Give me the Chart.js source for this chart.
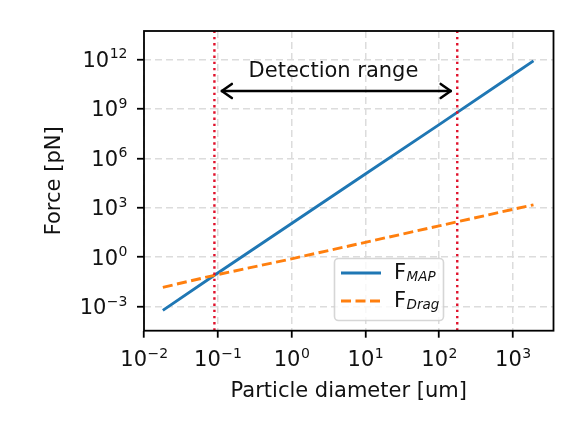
<!DOCTYPE html>
<html>
<head>
<meta charset="utf-8">
<script src="https://cdn.jsdelivr.net/npm/chart.js@4.4.0/dist/chart.umd.min.js"></script>
<style>
  html, body { margin: 0; padding: 0; background: #fff; }
  #chart { display: block; }
</style>
</head>
<body>
<canvas id="chart" width="579" height="432"></canvas>
<script>
// values (log-log)
const DIAMETER = [0.018, 0.09, 1, 10, 100, 1000, 1900];
const F_MAP    = [6e-4, 0.08, 110, 1.1e5, 1.1e8, 1.15e11, 8e11];
const F_DRAG   = [0.015, 0.08, 0.8, 8, 80, 800, 1500];

const RANGE_LIMITS = [0.09, 176];     // red dotted verticals
const ARROW_X = [0.11, 148];
const ARROW_Y = 1.2e10;
const RANGE_LABEL = "Detection range";
const RANGE_LABEL_AT = { x: 3.7, y: 9e10 };

const X_TICK_EXP = [-2, -1, 0, 1, 2, 3];
const Y_TICK_EXP = [-3, 0, 3, 6, 9, 12];
const X_LIMITS = [0.01, Math.pow(10, 3.55)];
const Y_LIMITS = [Math.pow(10, -4.455), Math.pow(10, 13.716)];

const X_TITLE = "Particle diameter [um]";
const Y_TITLE = "Force [pN]";

const COLOR = {
    map: "#1f77b4",
    drag: "#ff7f0e",
    limit: "#e0112b",
    grid: "#dcdcdc",
    ink: "#111",
};
const FONT = '"DejaVu Sans", sans-serif';

const LEGEND = [
    { main: "F", sub: "MAP", color: COLOR.map, dash: [] },
    { main: "F", sub: "Drag", color: COLOR.drag, dash: [10, 4.5] },
];

const pts = (xs, ys) => xs.map((x, i) => ({ x, y: ys[i] }));

function supText(exp) {
    return exp < 0 ? "\u2212" + (-exp) : String(exp);
}

// "10" with a raised exponent; align = "center" (x ticks) or "right" (y ticks)
function drawPow(ctx, exp, x, baseline, align) {
    const sup = supText(exp);
    ctx.font = "21px " + FONT;
    const wb = ctx.measureText("10").width;
    ctx.font = "14px " + FONT;
    const ws = ctx.measureText(sup).width;
    const x0 = align === "center" ? x - (wb + ws) / 2 : x - (wb + ws);
    ctx.textAlign = "left";
    ctx.textBaseline = "alphabetic";
    ctx.font = "21px " + FONT;
    ctx.fillText("10", x0, baseline);
    ctx.font = "14px " + FONT;
    ctx.fillText(sup, x0 + wb + 0.5, baseline - 8.5);
}

const overlay = {
    id: "overlay",
    afterDatasetsDraw(chart) {
        const { ctx, chartArea: a, scales: { x, y } } = chart;
        ctx.save();

        // frame
        ctx.strokeStyle = "#000";
        ctx.lineWidth = 1.8;
        ctx.setLineDash([]);
        ctx.strokeRect(a.left, a.top, a.right - a.left, a.bottom - a.top);

        // arrow heads
        const ay = y.getPixelForValue(ARROW_Y);
        const xl = x.getPixelForValue(ARROW_X[0]);
        const xr = x.getPixelForValue(ARROW_X[1]);
        ctx.lineWidth = 2.6;
        ctx.lineCap = "round";
        ctx.lineJoin = "round";
        ctx.beginPath();
        ctx.moveTo(xl + 11, ay - 7); ctx.lineTo(xl + 1, ay); ctx.lineTo(xl + 11, ay + 7);
        ctx.moveTo(xr - 11, ay - 7); ctx.lineTo(xr - 1, ay); ctx.lineTo(xr - 11, ay + 7);
        ctx.stroke();

        ctx.fillStyle = COLOR.ink;

        // annotation text
        ctx.font = "21px " + FONT;
        ctx.textAlign = "center";
        ctx.textBaseline = "alphabetic";
        ctx.fillText(RANGE_LABEL, x.getPixelForValue(RANGE_LABEL_AT.x), y.getPixelForValue(RANGE_LABEL_AT.y));

        // tick labels
        X_TICK_EXP.forEach(e => drawPow(ctx, e, x.getPixelForValue(Math.pow(10, e)), a.bottom + 35.3, "center"));
        Y_TICK_EXP.forEach(e => drawPow(ctx, e, a.left - 17, y.getPixelForValue(Math.pow(10, e)) + 7.4, "right"));

        // axis titles
        ctx.font = "21px " + FONT;
        ctx.textAlign = "center";
        ctx.fillText(X_TITLE, (a.left + a.right) / 2, 396.7);
        ctx.save();
        ctx.translate(59.5, (a.top + a.bottom) / 2);
        ctx.rotate(-Math.PI / 2);
        ctx.fillText(Y_TITLE, 0, 0);
        ctx.restore();

        // legend
        ctx.beginPath();
        ctx.roundRect(334.5, 258.5, 109, 62, 4);
        ctx.fillStyle = "rgba(255,255,255,0.8)";
        ctx.fill();
        ctx.strokeStyle = "rgba(204,204,204,0.8)";
        ctx.lineWidth = 1.6;
        ctx.stroke();
        LEGEND.forEach((item, i) => {
            const ly = 273 + i * 28;
            ctx.beginPath();
            ctx.strokeStyle = item.color;
            ctx.lineWidth = 2.8;
            ctx.lineCap = "butt";
            ctx.setLineDash(item.dash);
            ctx.moveTo(341, ly);
            ctx.lineTo(381, ly);
            ctx.stroke();
            ctx.setLineDash([]);
            ctx.fillStyle = COLOR.ink;
            ctx.textAlign = "left";
            ctx.font = "21px " + FONT;
            ctx.fillText(item.main, 394, ly + 5.6);
            const wf = ctx.measureText(item.main).width;
            ctx.font = "italic 13.5px " + FONT;
            ctx.fillText(item.sub, 394 + wf + 0.5, ly + 8.3);
        });

        ctx.restore();
    },
};

const lineStyle = { pointRadius: 0, showLine: true, tension: 0, fill: false };

new Chart(document.getElementById("chart"), {
    type: "scatter",
    data: {
        datasets: [
            ...RANGE_LIMITS.map(v => ({
                ...lineStyle,
                data: [{ x: v, y: Y_LIMITS[0] }, { x: v, y: Y_LIMITS[1] }],
                borderColor: COLOR.limit,
                borderWidth: 2.4,
                borderDash: [2.4, 3.8],
            })),
            {
                ...lineStyle,
                data: [{ x: ARROW_X[0], y: ARROW_Y }, { x: ARROW_X[1], y: ARROW_Y }],
                borderColor: "#000",
                borderWidth: 2.6,
            },
            {
                ...lineStyle,
                label: "F_Drag",
                data: pts(DIAMETER, F_DRAG),
                borderColor: COLOR.drag,
                borderWidth: 2.9,
                borderDash: [10, 4.5],
            },
            {
                ...lineStyle,
                label: "F_MAP",
                data: pts(DIAMETER, F_MAP),
                borderColor: COLOR.map,
                borderWidth: 2.9,
            },
        ],
    },
    options: {
        responsive: false,
        devicePixelRatio: 1,
        animation: false,
        events: [],
        layout: { padding: { left: 0, top: 31, right: 25.5, bottom: 0 } },
        plugins: { legend: { display: false }, tooltip: { enabled: false } },
        scales: {
            x: {
                type: "logarithmic",
                min: X_LIMITS[0],
                max: X_LIMITS[1],
                afterBuildTicks: s => { s.ticks = X_TICK_EXP.map(e => ({ value: Math.pow(10, e) })); },
                afterFit: s => { s.height = 101.3; },
                ticks: { display: false },
                grid: {
                    color: COLOR.grid, lineWidth: 1.5,
                    drawTicks: true, tickLength: 7, tickColor: "#000", tickWidth: 1.8,
                },
                border: { display: false, dash: [7, 4] },
            },
            y: {
                type: "logarithmic",
                min: Y_LIMITS[0],
                max: Y_LIMITS[1],
                afterBuildTicks: s => { s.ticks = Y_TICK_EXP.map(e => ({ value: Math.pow(10, e) })); },
                afterFit: s => { s.width = 144; },
                ticks: { display: false },
                grid: {
                    color: COLOR.grid, lineWidth: 1.5,
                    drawTicks: true, tickLength: 7, tickColor: "#000", tickWidth: 1.8,
                },
                border: { display: false, dash: [7, 4] },
            },
        },
    },
    plugins: [overlay],
});
</script>
</body>
</html>
